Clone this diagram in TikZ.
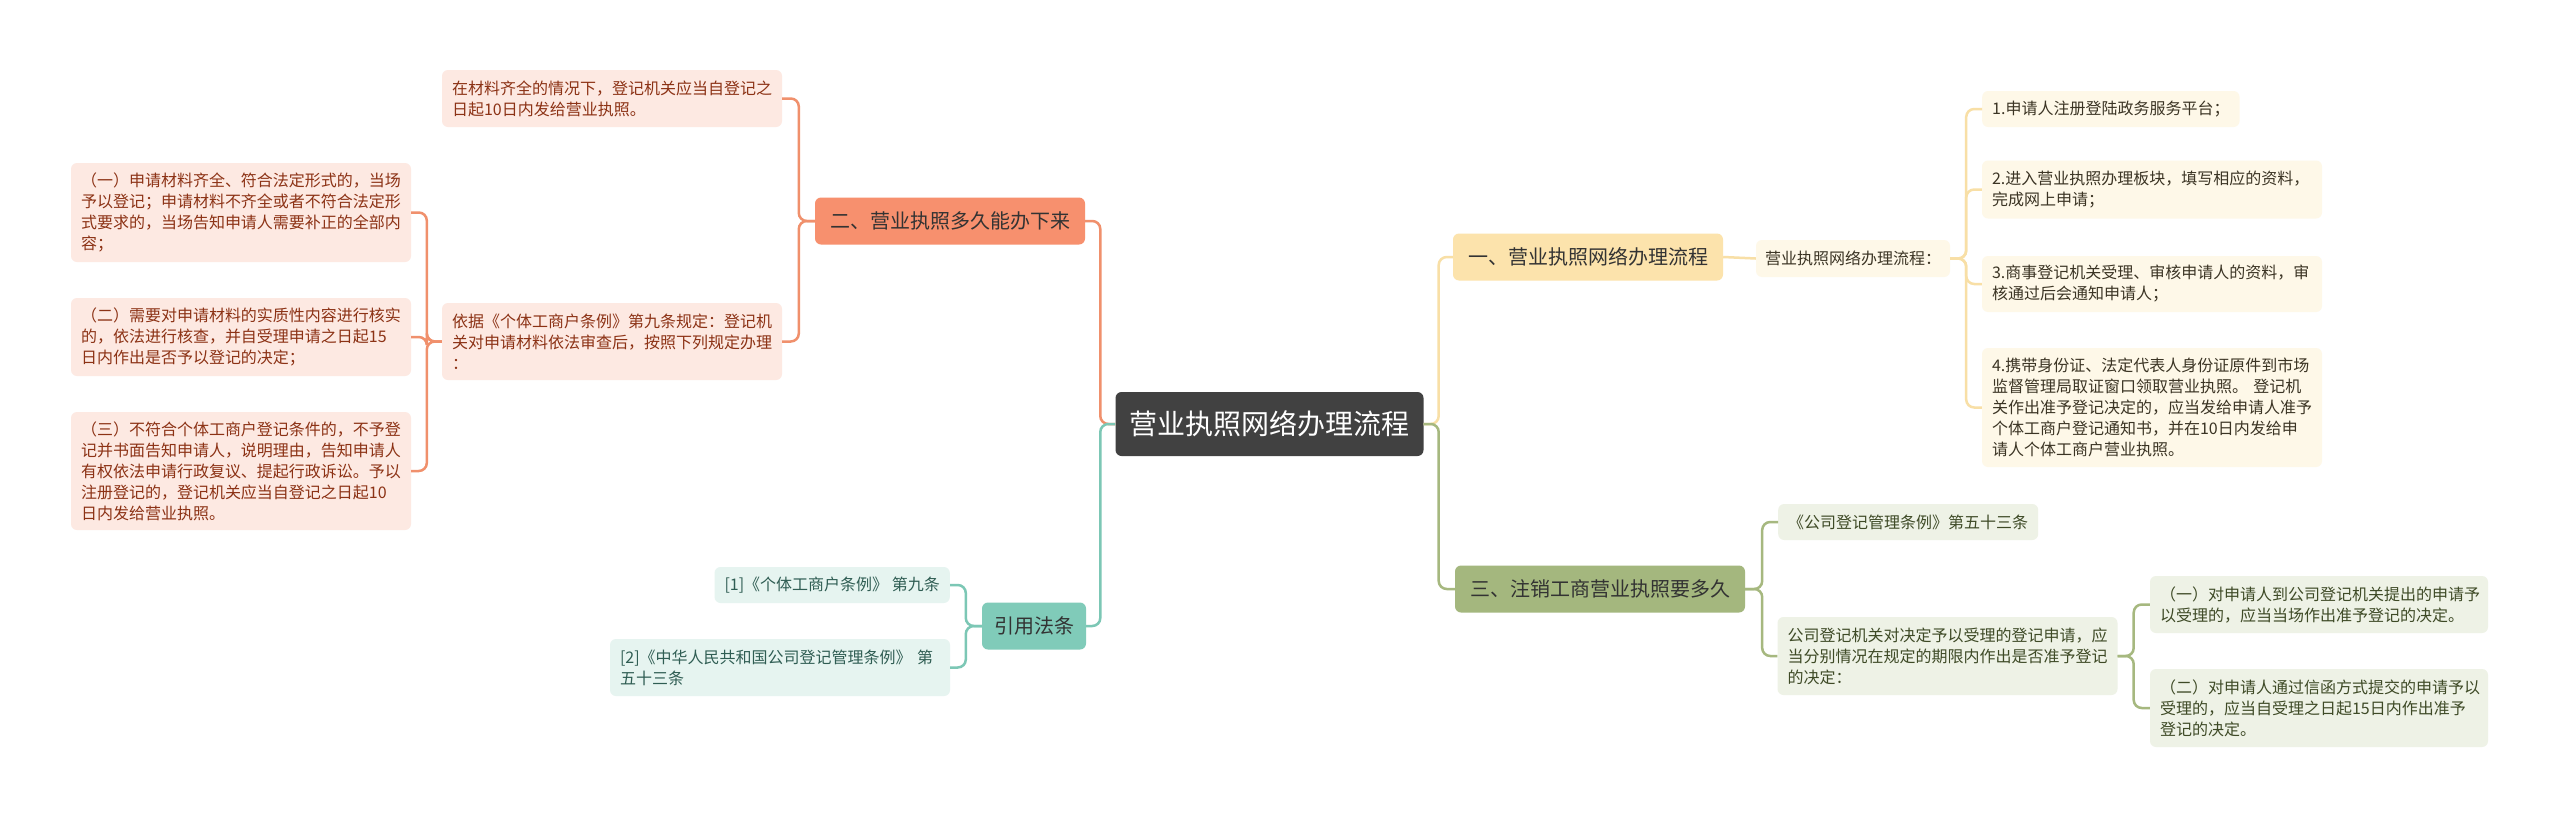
\documentclass[tikz,border=0pt]{standalone}
\usepackage{fontspec}
\setmainfont{Noto Sans CJK SC}
\usepackage{xcolor}
\usepackage{tikz}
\usetikzlibrary{positioning, calc}

\definecolor{rootfill}{HTML}{414141}
\definecolor{orangemain}{HTML}{F7906E}
\definecolor{orangeline}{HTML}{F0906C}
\definecolor{orangeleaf}{HTML}{FDE9E2}
\definecolor{orangetext}{HTML}{8C3215}
\definecolor{tealmain}{HTML}{80CBB9}
\definecolor{tealline}{HTML}{7CC7B5}
\definecolor{tealleaf}{HTML}{E6F4F0}
\definecolor{tealtext}{HTML}{2F5D53}
\definecolor{yellowmain}{HTML}{FCE3AC}
\definecolor{yellowline}{HTML}{F8DFA6}
\definecolor{yellowleaf}{HTML}{FEF8E8}
\definecolor{yellowtext}{HTML}{3B3424}
\definecolor{greenmain}{HTML}{A4B77E}
\definecolor{greenline}{HTML}{A6B87F}
\definecolor{greenleaf}{HTML}{EEF2E6}
\definecolor{greentext}{HTML}{3E4A26}

\begin{document}
\begin{tikzpicture}[
    x=1pt, y=-1pt,
    every node/.style={align=left, font=\fontsize{16}{21}\selectfont, rounded corners=6pt, inner xsep=10pt, inner ysep=3pt},
    root/.style={fill=rootfill, text=white, font=\fontsize{28}{34}\selectfont, inner xsep=14pt, minimum height=64pt},
    branch/.style={font=\fontsize{20}{24}\selectfont, inner xsep=15pt, minimum height=47pt, text=black!80},
    orangeleaf/.style={fill=orangeleaf, text=orangetext},
    tealleaf/.style={fill=tealleaf, text=tealtext},
    yellowleaf/.style={fill=yellowleaf, text=yellowtext},
    greenleaf/.style={fill=greenleaf, text=greentext},
    link/.style={line width=2.5pt, rounded corners=8pt}
]
\fill[white] (0,0) rectangle (2560,817);
\useasboundingbox (0,0) rectangle (2560,817);

\node[root] (root) at (1269.5,424) {营业执照网络办理流程};

\node[branch, fill=orangemain] (o1) at (950,221) {二、营业执照多久能办下来};
\node[orangeleaf, text width=320pt, minimum height=57pt] (o11) at (612,98.5) {在材料齐全的情况下，登记机关应当自登记之\\日起10日内发给营业执照。};
\node[orangeleaf, text width=320pt, minimum height=77pt] (o12) at (612,341.5) {依据《个体工商户条例》第九条规定：登记机\\关对申请材料依法审查后，按照下列规定办理\\：};
\node[orangeleaf, text width=320pt, minimum height=99pt] (o121) at (241,212.5) {（一）申请材料齐全、符合法定形式的，当场\\予以登记；申请材料不齐全或者不符合法定形\\式要求的，当场告知申请人需要补正的全部内\\容；};
\node[orangeleaf, text width=320pt, minimum height=78pt] (o122) at (241,337) {（二）需要对申请材料的实质性内容进行核实\\的，依法进行核查，并自受理申请之日起15\\日内作出是否予以登记的决定；};
\node[orangeleaf, text width=320pt, minimum height=118pt] (o123) at (241,471) {（三）不符合个体工商户登记条件的，不予登\\记并书面告知申请人，说明理由，告知申请人\\有权依法申请行政复议、提起行政诉讼。予以\\注册登记的，登记机关应当自登记之日起10\\日内发给营业执照。};

\node[branch, fill=tealmain, inner xsep=12pt] (t1) at (1034,626) {引用法条};
\node[tealleaf, anchor=east, minimum height=36pt] (t11) at (950,585) {[1]《个体工商户条例》 第九条};
\node[tealleaf, text width=320pt, minimum height=57pt] (t12) at (780,667.5) {[2]《中华人民共和国公司登记管理条例》 第\\五十三条};

\node[branch, fill=yellowmain] (y1) at (1588,257) {一、营业执照网络办理流程};
\node[yellowleaf, inner xsep=9pt, minimum height=37pt] (y11) at (1853,258.5) {营业执照网络办理流程：};
\node[yellowleaf, anchor=west, minimum height=36pt] (y111) at (1982,109) {1.申请人注册登陆政务服务平台；};
\node[yellowleaf, text width=320pt, minimum height=58pt] (y112) at (2152,189.5) {2.进入营业执照办理板块，填写相应的资料，\\完成网上申请；};
\node[yellowleaf, text width=320pt, minimum height=56pt] (y113) at (2152,284) {3.商事登记机关受理、审核申请人的资料，审\\核通过后会通知申请人；};
\node[yellowleaf, text width=320pt, minimum height=119pt] (y114) at (2152,407.5) {4.携带身份证、法定代表人身份证原件到市场\\监督管理局取证窗口领取营业执照。 登记机\\关作出准予登记决定的，应当发给申请人准予\\个体工商户登记通知书，并在10日内发给申\\请人个体工商户营业执照。};

\node[branch, fill=greenmain] (g1) at (1600,589) {三、注销工商营业执照要多久};
\node[greenleaf, anchor=west, minimum height=36pt] (g11) at (1778,522) {《公司登记管理条例》第五十三条};
\node[greenleaf, text width=320pt, minimum height=78pt] (g12) at (1947.5,656) {公司登记机关对决定予以受理的登记申请，应\\当分别情况在规定的期限内作出是否准予登记\\的决定：};
\node[greenleaf, text width=318pt, minimum height=57pt] (g121) at (2319,604.5) {（一）对申请人到公司登记机关提出的申请予\\以受理的，应当当场作出准予登记的决定。};
\node[greenleaf, text width=318pt, minimum height=78pt] (g122) at (2319,708) {（二）对申请人通过信函方式提交的申请予以\\受理的，应当自受理之日起15日内作出准予\\登记的决定。};

\draw[link, orangeline] (root.west) -- ++(-15,0) |- (o1.east);
\draw[link, tealline] (root.west) -- ++(-15,0) |- (t1.east);
\draw[link, yellowline] (root.east) -- ++(15,0) |- (y1.west);
\draw[link, greenline] (root.east) -- ++(15,0) |- (g1.west);

\draw[link, orangeline] (o1.west) -- ++(-16,0) |- (o11.east);
\draw[link, orangeline] (o1.west) -- ++(-16,0) |- (o12.east);
\draw[link, orangeline] (o12.west) -- ++(-15,0) |- (o121.east);
\draw[link, orangeline] (o12.west) -- ++(-15,0) |- (o122.east);
\draw[link, orangeline] (o12.west) -- ++(-15,0) |- (o123.east);

\draw[link, tealline] (t1.west) -- ++(-16,0) |- (t11.east);
\draw[link, tealline] (t1.west) -- ++(-16,0) |- (t12.east);

\draw[link, yellowline] (y1.east) -- (y11.west);
\draw[link, yellowline] (y11.east) -- ++(16,0) |- (y111.west);
\draw[link, yellowline] (y11.east) -- ++(16,0) |- (y112.west);
\draw[link, yellowline] (y11.east) -- ++(16,0) |- (y113.west);
\draw[link, yellowline] (y11.east) -- ++(16,0) |- (y114.west);

\draw[link, greenline] (g1.east) -- ++(17,0) |- (g11.west);
\draw[link, greenline] (g1.east) -- ++(17,0) |- (g12.west);
\draw[link, greenline] (g12.east) -- ++(16,0) |- (g121.west);
\draw[link, greenline] (g12.east) -- ++(16,0) |- (g122.west);
\end{tikzpicture}
\end{document}
